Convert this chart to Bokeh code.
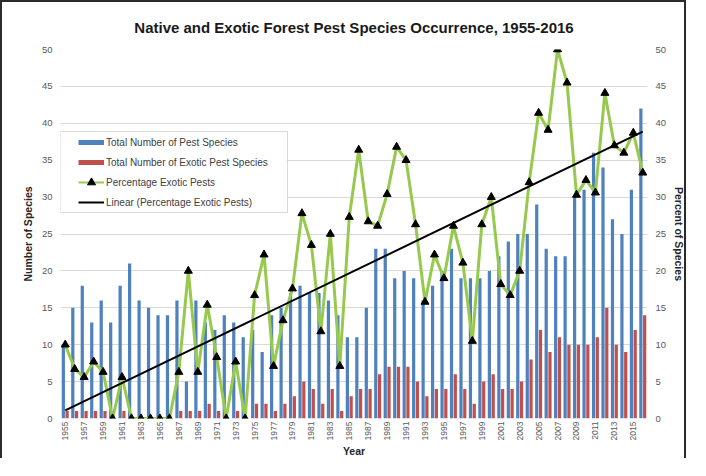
import math
import numpy as np
from bokeh.plotting import figure
from bokeh.models import (Range1d, LinearAxis, FixedTicker, Legend, LegendItem,
                          ColumnDataSource, Title, BoxAnnotation)
from bokeh.transform import dodge
from bokeh.embed import file_html
from bokeh.resources import INLINE

# ---------------- data ----------------
years = list(range(1955, 2017))
total_species = [10, 15, 18, 13, 16, 13, 18, 21, 16, 15, 14, 14, 16, 5, 16, 13, 12, 14, 13, 11,
                 12, 9, 14, 15, 17, 18, 17, 17, 16, 14, 11, 11, 15, 23, 23, 19, 20, 19, 16, 18,
                 20, 23, 19, 19, 19, 20, 22, 24, 25, 25, 29, 23, 22, 22, 30, 31, 36, 34, 27, 25,
                 31, 42]
exotic_species = [1, 1, 1, 1, 1, 0, 1, 0, 0, 0, 0, 0, 1, 1, 1, 2, 1, 0, 1, 0,
                  2, 2, 1, 2, 3, 5, 4, 2, 4, 1, 3, 4, 4, 6, 7, 7, 7, 5, 3, 4,
                  4, 6, 4, 2, 5, 6, 4, 4, 5, 8, 12, 9, 11, 10, 10, 10, 11, 15, 10, 9,
                  12, 14]
pct_exotic = [10.0, 6.7, 5.6, 7.7, 6.3, 0, 5.6, 0, 0, 0, 0, 0, 6.3, 20.0, 6.3, 15.4, 8.3, 0, 7.7, 0,
              16.7, 22.2, 7.1, 13.3, 17.6, 27.8, 23.5, 11.8, 25.0, 7.1, 27.3, 36.4, 26.7, 26.1, 30.4,
              36.8, 35.0, 26.3, 15.8, 22.2, 19.0, 26.1, 21.1, 10.5, 26.3, 30.0, 18.2, 16.7, 20.0,
              32.0, 41.4, 39.1, 50.0, 45.5, 30.3, 32.3, 30.6, 44.1, 37.0, 36.0, 38.7, 33.3]
x_tick_years = years[::2]
y_ticks = [0, 5, 10, 15, 20, 25, 30, 35, 40, 45, 50]

title_text = "Native and Exotic Forest Pest Species Occurrence, 1955-2016"
x_label = "Year"
left_label = "Number of Species"
right_label = "Percent of Species"
legend_labels = ["Total Number of Pest Species", "Total Number of Exotic Pest Species",
                 "Percentage Exotic Pests", "Linear (Percentage Exotic Pests)"]

# ---------------- styling / layout ----------------
BLUE = "#4F81BD"
RED = "#C0504D"
GREEN = "#97C94F"
FONT = "Liberation Sans"
TICK_COLOR = "#595959"
LABEL_COLOR = "#262626"
NAN = float("nan")
W, H = 686, 458          # + 2px css border left/right/top -> 690 x 460
B_LEFT, B_RIGHT, B_TOP, B_BOTTOM = 58, 38, 44, 40

src = ColumnDataSource(dict(year=years, total=total_species, exotic=exotic_species, pct=pct_exotic))

coef = np.polyfit(years, pct_exotic, 1)
trend_x = [years[0], years[-1]]
trend_y = [float(v) for v in np.polyval(coef, trend_x)]

p = figure(width=W, height=H, output_backend="svg", toolbar_location=None,
           x_range=Range1d(1954.5, 2016.5), y_range=Range1d(0, 50),
           min_border_left=B_LEFT, min_border_right=B_RIGHT,
           min_border_top=B_TOP, min_border_bottom=B_BOTTOM,
           background_fill_color="white", border_fill_color="white")
p.outline_line_color = None
p.extra_y_ranges = {"pct": Range1d(0, 50)}
p.styles = {"border-top": "2px solid #2b2b2b", "border-left": "2px solid #2b2b2b",
            "border-right": "2px solid #2b2b2b"}

p.title = Title(text=title_text, align="center", text_font=FONT, text_font_size="15px",
                text_font_style="bold", text_color="#1a1a1a", standoff=28)

# bars
p.vbar(x=dodge("year", -0.2, range=p.x_range), top="total", width=0.34, source=src,
       fill_color=BLUE, line_color=None)
p.vbar(x=dodge("year", 0.2, range=p.x_range), top="exotic", width=0.34, source=src,
       fill_color=RED, line_color=None)

# percentage line + markers
pct_line = p.line("year", "pct", source=src, y_range_name="pct", line_color=GREEN, line_width=3)
pct_marks = p.scatter("year", "pct", source=src, y_range_name="pct", marker="triangle",
                      size=8, fill_color="black", line_color="black")
trend = p.line(trend_x, trend_y, y_range_name="pct", line_color="black", line_width=2)

# legend swatches (no visible data)
sw_total = p.line(x=[NAN], y=[NAN], line_color=BLUE, line_width=5)
sw_exotic = p.line(x=[NAN], y=[NAN], line_color=RED, line_width=5)
sw_green = p.line(x=[NAN], y=[NAN], line_color=GREEN, line_width=2)
sw_tri = p.scatter(x=[NAN], y=[NAN], marker="triangle", size=4,
                   fill_color="black", line_color="black")
sw_trend = p.line(x=[NAN], y=[NAN], line_color="black", line_width=2)

# axes
p.xgrid.visible = False
p.ygrid.ticker = FixedTicker(ticks=y_ticks)
p.ygrid.grid_line_color = "#D9D9D9"

def style_axis(ax, label_size, standoff, label, label_standoff):
    ax.axis_line_color = None
    ax.major_tick_line_color = None
    ax.minor_tick_line_color = None
    ax.major_tick_out = 0
    ax.major_tick_in = 0
    ax.minor_tick_out = 0
    ax.minor_tick_in = 0
    ax.major_label_text_font = FONT
    ax.major_label_text_font_size = label_size
    ax.major_label_text_color = TICK_COLOR
    ax.major_label_standoff = standoff
    ax.axis_label = label
    ax.axis_label_text_font = FONT
    ax.axis_label_text_font_size = "10.5px"
    ax.axis_label_text_font_style = "bold"
    ax.axis_label_text_color = LABEL_COLOR
    ax.axis_label_standoff = label_standoff

xa = p.xaxis[0]
xa.ticker = FixedTicker(ticks=x_tick_years)
xa.major_label_orientation = math.pi / 2
style_axis(xa, "8.5px", 3, x_label, 2)

ya = p.yaxis[0]
ya.ticker = FixedTicker(ticks=y_ticks)
style_axis(ya, "9.5px", 8, left_label, 5)

ra = LinearAxis(y_range_name="pct", ticker=FixedTicker(ticks=y_ticks))
style_axis(ra, "9.5px", 8, right_label, 4)
p.add_layout(ra, "right")

# legend box + legend
box = BoxAnnotation(left=56, right=283, top=127, bottom=208,
                    left_units="canvas", right_units="canvas",
                    bottom_units="canvas", top_units="canvas",
                    fill_color="white", fill_alpha=1.0,
                    line_color="#7f7f7f", line_width=1)
p.add_layout(box)

legend = Legend(items=[
    LegendItem(label=legend_labels[0], renderers=[sw_total]),
    LegendItem(label=legend_labels[1], renderers=[sw_exotic]),
    LegendItem(label=legend_labels[2], renderers=[sw_green, sw_tri]),
    LegendItem(label=legend_labels[3], renderers=[sw_trend]),
], location=(18, 206), padding=0, spacing=0, margin=0,
    glyph_height=20, glyph_width=26, label_height=20, label_standoff=2,
    label_text_font=FONT, label_text_font_size="10px", label_text_color="#404040",
    border_line_color=None, background_fill_alpha=0)
p.add_layout(legend)

open("out.html", "w").write(file_html(p, INLINE))
